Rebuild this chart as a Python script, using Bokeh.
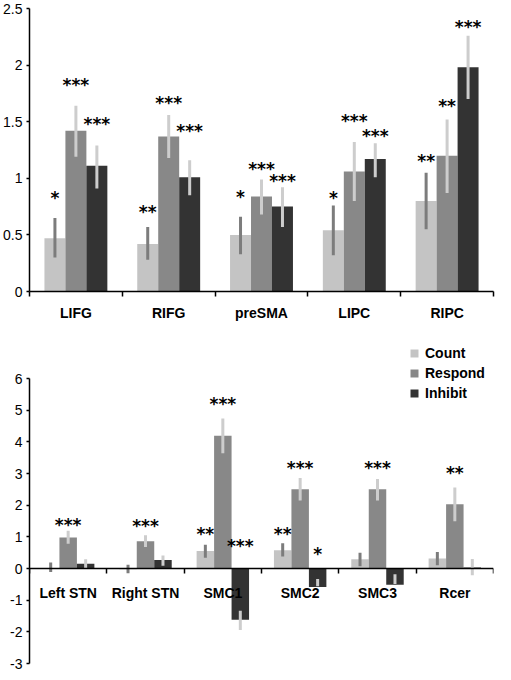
from bokeh.plotting import figure
from bokeh.models import Range1d, FixedTicker, Legend, LegendItem, ColumnDataSource
from bokeh.layouts import column
from bokeh.embed import file_html
from bokeh.resources import INLINE
from bokeh.core.properties import value

# ---------------- data ----------------
series = ["Count", "Respond", "Inhibit"]

top_regions = ["LIFG", "RIFG", "preSMA", "LIPC", "RIPC"]
top_count = [0.47, 0.42, 0.50, 0.54, 0.80]
top_count_lo = [0.30, 0.28, 0.33, 0.32, 0.55]
top_count_hi = [0.65, 0.57, 0.66, 0.76, 1.05]
top_respond = [1.42, 1.37, 0.84, 1.06, 1.20]
top_respond_lo = [1.19, 1.18, 0.68, 0.80, 0.87]
top_respond_hi = [1.64, 1.56, 0.99, 1.32, 1.52]
top_inhibit = [1.11, 1.01, 0.75, 1.17, 1.98]
top_inhibit_lo = [0.91, 0.85, 0.57, 1.01, 1.70]
top_inhibit_hi = [1.29, 1.16, 0.92, 1.31, 2.26]
top_count_sig = ["*", "**", "*", "*", "**"]
top_count_sig_y = [0.87, 0.75, 0.88, 0.87, 1.20]
top_respond_sig = ["***", "***", "***", "***", "**"]
top_respond_sig_y = [1.87, 1.71, 1.13, 1.55, 1.68]
top_inhibit_sig = ["***", "***", "***", "***", "***"]
top_inhibit_sig_y = [1.52, 1.46, 1.02, 1.42, 2.38]
top_yticks = [0, 0.5, 1, 1.5, 2, 2.5]
top_ytick_labels = ["0", "0.5", "1", "1.5", "2", "2.5"]

bot_regions = ["Left STN", "Right STN", "SMC1", "SMC2", "SMC3", "Rcer"]
bot_count = [0.02, -0.02, 0.55, 0.58, 0.29, 0.32]
bot_count_lo = [-0.11, -0.15, 0.34, 0.38, 0.07, 0.10]
bot_count_hi = [0.19, 0.12, 0.75, 0.80, 0.50, 0.52]
bot_respond = [0.98, 0.86, 4.19, 2.50, 2.50, 2.03]
bot_respond_lo = [0.78, 0.68, 3.64, 2.15, 2.15, 1.49]
bot_respond_hi = [1.19, 1.05, 4.74, 2.86, 2.83, 2.56]
bot_inhibit = [0.15, 0.27, -1.62, -0.58, -0.51, 0.03]
bot_inhibit_lo = [0.02, 0.09, -1.94, -0.56, -0.49, -0.21]
bot_inhibit_hi = [0.29, 0.41, -1.33, -0.33, -0.18, 0.30]
bot_count_sig = ["", "", "**", "**", "", ""]
bot_count_sig_y = [0, 0, 1.24, 1.24, 0, 0]
bot_respond_sig = ["***", "***", "***", "***", "***", "**"]
bot_respond_sig_y = [1.54, 1.49, 5.37, 3.34, 3.34, 3.16]
bot_inhibit_sig = ["", "", "***", "*", "", ""]
bot_inhibit_sig_y = [0, 0, 0.86, 0.62, 0, 0]
bot_yticks = [-3, -2, -1, 0, 1, 2, 3, 4, 5, 6]
bot_ytick_labels = ["-3", "-2", "-1", "0", "1", "2", "3", "4", "5", "6"]

# ---------------- style ----------------
bar_colors = ["#c4c4c4", "#888888", "#333333"]
err_colors = ["#7c7c7c", "#cdcdcd", "#cdcdcd"]
BAR_W = 0.226
FONT = "Liberation Sans"
STAR_FONT = "DejaVu Sans"


def draw_panel(p, regions, vals, los, his, sigs, sig_ys):
    n = len(regions)
    renderers = []
    for k in range(3):
        xs = [i + 0.5 + (k - 1) * BAR_W for i in range(n)]
        src = ColumnDataSource(dict(x=xs, top=vals[k]))
        r = p.vbar(x="x", top="top", bottom=0, width=BAR_W, source=src,
                   fill_color=bar_colors[k], line_color=None)
        renderers.append(r)
    for k in range(3):
        xs = [i + 0.5 + (k - 1) * BAR_W for i in range(n)]
        p.segment(x0=xs, y0=los[k], x1=xs, y1=his[k],
                  line_color=err_colors[k], line_width=3)
    for k in range(3):
        xs = [i + 0.5 + (k - 1) * BAR_W for i in range(n)]
        p.text(x=xs, y=sig_ys[k], text=sigs[k],
               text_font=value(STAR_FONT), text_font_style="bold",
               text_font_size="17px", text_align="center",
               text_baseline="middle", text_color="black", y_offset=5)
    return renderers


def style_axes(p, regions, yticks, ylabels):
    n = len(regions)
    ya = p.yaxis[0]
    ya.ticker = FixedTicker(ticks=yticks)
    ya.major_label_overrides = {t: l for t, l in zip(yticks, ylabels)}
    ya.bounds = (min(yticks), max(yticks))
    ya.minor_tick_line_color = None
    ya.major_tick_in = 0
    ya.major_tick_out = 3
    ya.major_label_standoff = 4
    ya.axis_line_width = 1.5
    ya.major_tick_line_width = 1.5
    ya.major_label_text_font = FONT
    ya.major_label_text_font_size = "14px"
    ya.major_label_text_color = "black"

    xa = p.xaxis[0]
    centers = [i + 0.5 for i in range(n)]
    xa.ticker = FixedTicker(ticks=centers, minor_ticks=list(range(n + 1)))
    xa.major_label_overrides = {c: r for c, r in zip(centers, regions)}
    xa.major_tick_line_color = None
    xa.major_tick_in = 0
    xa.major_tick_out = 0
    xa.minor_tick_in = 0
    xa.minor_tick_out = 5
    xa.minor_tick_line_width = 1.5
    xa.axis_line_width = 1.5
    xa.major_label_text_font = FONT
    xa.major_label_text_font_style = "bold"
    xa.major_label_text_font_size = "14px"
    xa.major_label_text_color = "black"


# ---------------- top panel ----------------
p1 = figure(width=495, height=323, output_backend="svg", toolbar_location=None,
            x_range=Range1d(0, len(top_regions)), y_range=Range1d(0, 2.5),
            min_border_left=24, min_border_right=1, min_border_top=8,
            min_border_bottom=30)
p1.grid.visible = False
p1.outline_line_color = None
draw_panel(p1, top_regions,
           [top_count, top_respond, top_inhibit],
           [top_count_lo, top_respond_lo, top_inhibit_lo],
           [top_count_hi, top_respond_hi, top_inhibit_hi],
           [top_count_sig, top_respond_sig, top_inhibit_sig],
           [top_count_sig_y, top_respond_sig_y, top_inhibit_sig_y])
style_axes(p1, top_regions, top_yticks, top_ytick_labels)
p1.xaxis[0].major_label_standoff = 8

# ---------------- bottom panel ----------------
# frame extends a little above the top tick so the legend sits inside it
p2 = figure(width=495, height=349, output_backend="svg", toolbar_location=None,
            x_range=Range1d(0, len(bot_regions)), y_range=Range1d(-3, 7.36),
            min_border_left=22, min_border_right=2, min_border_top=12,
            min_border_bottom=9)
p2.grid.visible = False
p2.outline_line_color = None
rends = draw_panel(p2, bot_regions,
                   [bot_count, bot_respond, bot_inhibit],
                   [bot_count_lo, bot_respond_lo, bot_inhibit_lo],
                   [bot_count_hi, bot_respond_hi, bot_inhibit_hi],
                   [bot_count_sig, bot_respond_sig, bot_inhibit_sig],
                   [bot_count_sig_y, bot_respond_sig_y, bot_inhibit_sig_y])
style_axes(p2, bot_regions, bot_yticks, bot_ytick_labels)
p2.xaxis[0].fixed_location = 0
p2.xaxis[0].major_label_standoff = 11

legend = Legend(items=[LegendItem(label=s, renderers=[r]) for s, r in zip(series, rends)],
                location=(380, 262), orientation="vertical",
                glyph_width=10, glyph_height=10, label_height=14,
                label_standoff=6, spacing=4, padding=0, margin=0,
                border_line_color=None, background_fill_alpha=0,
                label_text_font=FONT, label_text_font_style="bold",
                label_text_font_size="14px", label_text_color="black")
p2.add_layout(legend, "center")

layout = column(p1, p2, spacing=0)
open("out.html", "w").write(file_html(layout, INLINE))
